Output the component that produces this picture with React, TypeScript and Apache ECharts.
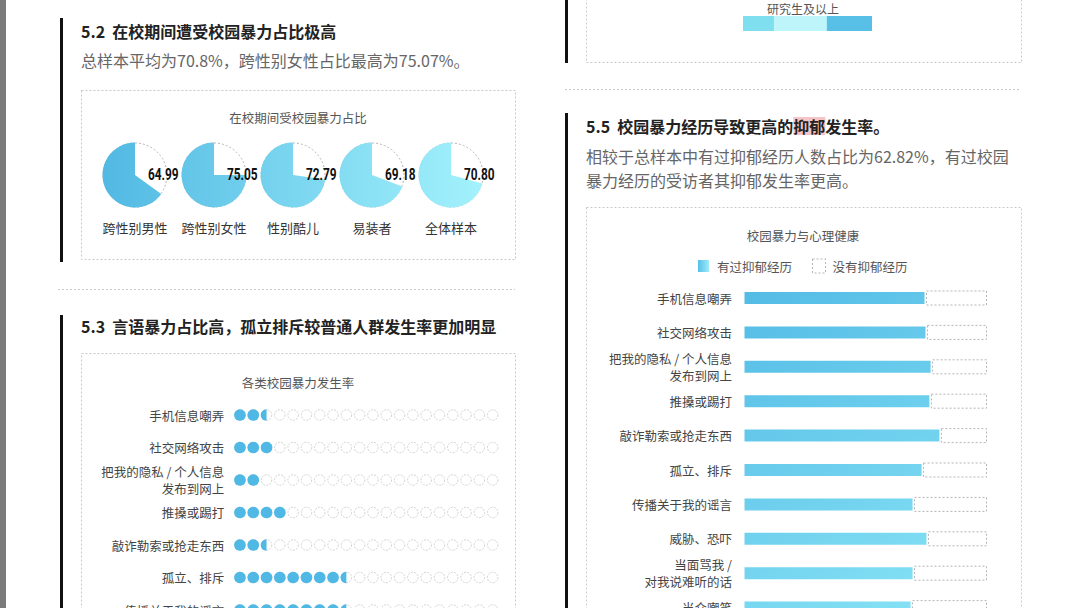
import React, { useEffect, useRef } from "react";
import * as echarts from "echarts";

const FONT = '"Noto Sans CJK SC", "Noto Sans", sans-serif';
const NUM_FONT = 'Roboto, "DejaVu Sans", sans-serif';

// 5.2 pies
const pieCategories = ["跨性别男性", "跨性别女性", "性别酷儿", "易装者", "全体样本"];
const pieValues = [64.99, 75.05, 72.79, 69.18, 70.8];

// 5.3 dot rows (percent, 20 dots = 100)
const dotCategories = [
  "手机信息嘲弄",
  "社交网络攻击",
  "把我的隐私 / 个人信息\n发布到网上",
  "推搡或踢打",
  "敲诈勒索或抢走东西",
  "孤立、排斥",
  "传播关于我的谣言",
];
const dotValues = [12.5, 15, 10, 20, 12.5, 42.5, 42.5];
const dotMax = 100;
const dotCount = 20;

// 5.5 bars
const barCategories = [
  "手机信息嘲弄",
  "社交网络攻击",
  "把我的隐私 / 个人信息\n发布到网上",
  "推搡或踢打",
  "敲诈勒索或抢走东西",
  "孤立、排斥",
  "传播关于我的谣言",
  "威胁、恐吓",
  "当面骂我 /\n对我说难听的话",
  "当众嘲笑",
];
const depressedValues = [75.0, 75.4, 77.5, 77.0, 81.1, 73.8, 70.1, 75.8, 70.1, 69.3];
const legendNames = ["有过抑郁经历", "没有抑郁经历"];

// 5.4 (partial, top right)
const eduCategory = ["研究生及以上"];
const eduValues = [24, 41, 35];
const eduColors = ["#7fdfee", "#bdf5fb", "#58bfe6"];

const CHART_H = 700;

function txt(x: number, y: number, text: string, size: number, color: string, opts: any = {}) {
  return {
    type: "text",
    x,
    y,
    scaleX: opts.scaleX || 1,
    silent: true,
    z: 10,
    style: {
      text,
      fill: color,
      fontSize: size,
      fontFamily: opts.family || FONT,
      fontWeight: opts.weight || "normal",
      align: opts.align || "left",
      verticalAlign: "middle",
      lineHeight: opts.lineHeight,
      rich: opts.rich,
    },
  };
}

function dottedRect(x: number, y: number, w: number, h: number) {
  return {
    type: "rect",
    silent: true,
    z: 1,
    shape: { x: x + 0.5, y: y + 0.5, width: w, height: h },
    style: { fill: "none", stroke: "#c9c9c9", lineWidth: 1, lineDash: [2, 2] },
  };
}

function dottedLine(x1: number, x2: number, y: number) {
  return {
    type: "line",
    silent: true,
    shape: { x1, y1: y + 0.5, x2, y2: y + 0.5 },
    style: { stroke: "#c9c9c9", lineWidth: 1, lineDash: [2, 2] },
  };
}

function blackBar(x: number, y1: number, y2: number) {
  return {
    type: "rect",
    silent: true,
    shape: { x, y: y1, width: 3, height: y2 - y1 },
    style: { fill: "#111" },
  };
}

export default function App() {
  const ref = useRef<HTMLDivElement>(null);

  useEffect(() => {
    if (!ref.current) return;
    const chart = echarts.init(ref.current, null, { renderer: "svg" });

    const pieCx = [135, 214, 293, 372, 451];
    const pieCy = 175;
    const pieR = 32;
    const pieGrad = new echarts.graphic.LinearGradient(
      103, 0, 483, 0,
      [
        { offset: 0, color: "#52b9e3" },
        { offset: 1, color: "#a3f2fc" },
      ],
      true
    );
    const dotGrad = new echarts.graphic.LinearGradient(
      233, 400, 420, 620,
      [
        { offset: 0, color: "#4fb8e4" },
        { offset: 1, color: "#88e3f5" },
      ],
      true
    );
    const barGrad = new echarts.graphic.LinearGradient(
      743, 280, 960, 630,
      [
        { offset: 0, color: "#52bae5" },
        { offset: 1, color: "#8ae5f6" },
      ],
      true
    );

    const pieSeries: any[] = [];
    pieValues.forEach((v, i) => {
      pieSeries.push({
        type: "pie",
        silent: true,
        center: [pieCx[i], pieCy],
        radius: [0, pieR],
        label: { show: false },
        labelLine: { show: false },
        emphasis: { disabled: true },
        z: 1,
        data: [
          {
            value: 100,
            itemStyle: { color: "#fff", borderColor: "#b5b5b5", borderWidth: 1, borderType: [2, 2] },
          },
        ],
      });
      pieSeries.push({
        type: "pie",
        silent: true,
        center: [pieCx[i], pieCy],
        radius: [0, pieR + 0.5],
        startAngle: 90,
        clockwise: false,
        label: { show: false },
        labelLine: { show: false },
        emphasis: { disabled: true },
        z: 2,
        data: [
          { value: v, itemStyle: { color: pieGrad } },
          { value: 100 - v, itemStyle: { color: "transparent" } },
        ],
      });
    });

    const graphic: any[] = [
      { type: "rect", silent: true, shape: { x: 0, y: 0, width: 6, height: CHART_H }, style: { fill: "#7b7b7b" } },
      blackBar(60, 18, 262),
      blackBar(60, 315, CHART_H),
      blackBar(565, -10, 63),
      blackBar(565, 113, CHART_H),
      dottedLine(58, 515, 289),
      dottedLine(565, 1021, 89),
      dottedRect(81, 90, 434, 169),
      dottedRect(81, 353, 434, 330),
      dottedRect(586, -10, 435, 72),
      dottedRect(586, 207, 435, 480),
      txt(81, 31, "5.2  在校期间遭受校园暴力占比极高", 16, "#222", { weight: "bold" }),
      txt(81, 60, "总样本平均为70.8%，跨性别女性占比最高为75.07%。", 16, "#666"),
      txt(298, 117, "在校期间受校园暴力占比", 12.5, "#555", { align: "center" }),
      txt(81, 326, "5.3  言语暴力占比高，孤立排斥较普通人群发生率更加明显", 16, "#222", { weight: "bold" }),
      txt(298, 382, "各类校园暴力发生率", 12.5, "#555", { align: "center" }),
      txt(803, 8, eduCategory[0], 12, "#555", { align: "center" }),
      txt(586, 126, "5.5  校园暴力经历导致更高的{hl|抑郁}发生率。", 16, "#222", {
        weight: "bold",
        rich: {
          hl: {
            backgroundColor: "#f5c4c6",
            fill: "#222",
            fontSize: 16,
            fontWeight: "bold",
            fontFamily: FONT,
            padding: [1, 0, 1, 0],
          },
        },
      }),
      txt(586, 156, "相较于总样本中有过抑郁经历人数占比为62.82%，有过校园", 16, "#666"),
      txt(586, 180, "暴力经历的受访者其抑郁发生率更高。", 16, "#666"),
      txt(803, 235, "校园暴力与心理健康", 12.5, "#555", { align: "center" }),
    ];
    pieValues.forEach((v, i) => {
      graphic.push(
        txt(pieCx[i] + 13, pieCy, v.toFixed(2), 16.5, "#111", { weight: "bold", family: NUM_FONT, scaleX: 0.72 })
      );
      graphic.push(txt(pieCx[i], 227, pieCategories[i], 13, "#333", { align: "center" }));
    });

    const dotRowH = 32.5;
    const dotTop = 415 - dotRowH / 2;
    const barRowH = 34.4;
    const barTop = 298 - barRowH / 2;

    const axisLabelStyle = {
      fontSize: 12.5,
      color: "#444",
      fontFamily: FONT,
      lineHeight: 17,
      align: "right",
    };

    // empty-dot background grid: one slot per dot in every row
    const dotSlots: number[][] = [];
    dotCategories.forEach((_, r) => {
      for (let k = 0; k < dotCount; k++) {
        dotSlots.push([(k + 0.5) * (dotMax / dotCount), r]);
      }
    });

    const option: any = {
      animation: false,
      backgroundColor: "#fff",
      graphic: { elements: graphic },
      legend: {
        left: 696,
        top: 258,
        padding: 0,
        itemWidth: 13,
        itemHeight: 14,
        itemGap: 20,
        icon: "rect",
        selectedMode: false,
        textStyle: { fontSize: 12.5, color: "#555", fontFamily: FONT, padding: [0, 0, 0, 2] },
        data: [
          { name: legendNames[0], itemStyle: { color: new echarts.graphic.LinearGradient(0, 0, 1, 0, [{ offset: 0, color: "#52bae5" }, { offset: 1, color: "#a3effb" }]) } },
          { name: legendNames[1], itemStyle: { color: "#fff", borderColor: "#b5b5b5", borderWidth: 1, borderType: [2, 2] } },
        ],
      },
      grid: [
        { left: 233.3, top: dotTop, width: 266, height: dotRowH * dotCategories.length },
        { left: 743, top: barTop, width: 244, height: barRowH * barCategories.length },
        { left: 743, top: 16, width: 129, height: 15 },
      ],
      xAxis: [
        { gridIndex: 0, type: "value", min: 0, max: dotMax, show: false },
        { gridIndex: 1, type: "value", min: 0, max: 100, show: false },
        { gridIndex: 2, type: "value", min: 0, max: 100, show: false },
      ],
      yAxis: [
        {
          gridIndex: 0,
          type: "category",
          inverse: true,
          data: dotCategories,
          axisLine: { show: false },
          axisTick: { show: false },
          splitLine: { show: false },
          axisLabel: { ...axisLabelStyle, margin: 9 },
        },
        {
          gridIndex: 1,
          type: "category",
          inverse: true,
          data: barCategories,
          axisLine: { show: false },
          axisTick: { show: false },
          splitLine: { show: false },
          axisLabel: { ...axisLabelStyle, margin: 11 },
        },
        {
          gridIndex: 2,
          type: "category",
          data: eduCategory,
          show: false,
        },
      ],
      series: [
        ...pieSeries,
        {
          type: "scatter",
          xAxisIndex: 0,
          yAxisIndex: 0,
          silent: true,
          symbol: "circle",
          symbolSize: 10.5,
          itemStyle: { color: "#fff", borderColor: "#c8c8c8", borderWidth: 1, borderType: [2, 1.2] },
          z: 2,
          data: dotSlots,
        },
        {
          type: "pictorialBar",
          xAxisIndex: 0,
          yAxisIndex: 0,
          silent: true,
          symbol: "circle",
          symbolSize: [11.5, 11.5],
          symbolRepeat: dotCount,
          symbolMargin: "1!",
          symbolBoundingData: dotMax,
          symbolClip: true,
          itemStyle: { color: dotGrad },
          z: 3,
          data: dotValues,
        },
        {
          name: legendNames[0],
          type: "bar",
          xAxisIndex: 1,
          yAxisIndex: 1,
          stack: "dep",
          barWidth: 15,
          silent: true,
          itemStyle: { color: barGrad, borderColor: "#fff", borderWidth: 1.5 },
          data: depressedValues,
        },
        {
          name: legendNames[1],
          type: "bar",
          xAxisIndex: 1,
          yAxisIndex: 1,
          stack: "dep",
          barWidth: 15,
          silent: true,
          itemStyle: { color: "#fff", borderColor: "#b5b5b5", borderWidth: 1, borderType: [2, 2] },
          data: depressedValues.map((v) => +(100 - v).toFixed(1)),
        },
        ...eduValues.map((v, i) => ({
          name: "edu" + i,
          type: "bar",
          xAxisIndex: 2,
          yAxisIndex: 2,
          stack: "edu",
          barWidth: 15,
          silent: true,
          itemStyle: { color: eduColors[i] },
          data: [v],
        })),
      ],
    };

    chart.setOption(option);
    return () => chart.dispose();
  }, []);

  return (
    <div style={{ position: "absolute", left: 0, top: 0, width: 1080, height: 608, background: "#fff", overflow: "hidden" }}>
      <div ref={ref} style={{ width: 1080, height: CHART_H }} />
    </div>
  );
}
